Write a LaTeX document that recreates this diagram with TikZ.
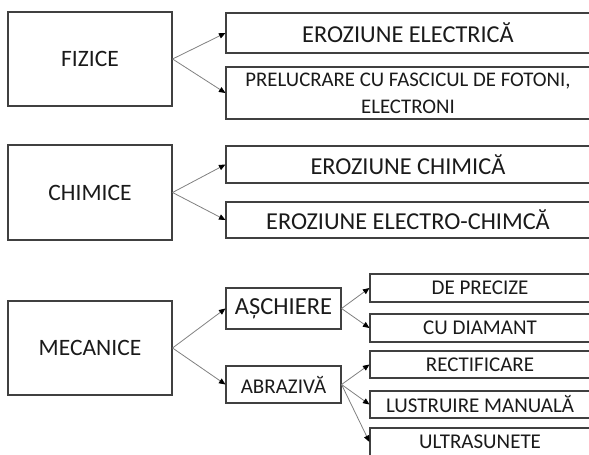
\documentclass[tikz,border=0pt]{standalone}
\usepackage{fontspec}
\setmainfont{Carlito}
\usetikzlibrary{arrows.meta}
\definecolor{boxline}{HTML}{404040}
\definecolor{arrowline}{HTML}{808080}
\definecolor{boxtext}{HTML}{1A1A1A}
\begin{document}
\begin{tikzpicture}[x=1pt,y=-1pt,
  box/.style={draw=boxline, line width=1.1pt, inner sep=0pt, text=boxtext, align=center},
  conn/.style={draw=arrowline, line width=0.8pt, -{Triangle[length=6.5pt,width=5.5pt,color=black]}}]
\useasboundingbox (0,0) rectangle (589,455);
\clip (0,0) rectangle (589,455);
% left column
\node[box, minimum width=164pt, minimum height=94pt, font=\fontsize{23.5}{28}\selectfont] (fizice) at (90,59) {FIZICE};
\node[box, minimum width=164pt, minimum height=95pt, font=\fontsize{23.5}{28}\selectfont] (chimice) at (90,192.5) {CHIMICE};
\node[box, minimum width=164pt, minimum height=94pt, font=\fontsize{23.5}{28}\selectfont] (mecanice) at (90,348) {MECANICE};
% wide boxes
\node[box, minimum width=364pt, minimum height=40pt, font=\fontsize{24.3}{29}\selectfont] (eroel) at (408,33) {EROZIUNE ELECTRICĂ};
\node[box, minimum width=364pt, minimum height=52pt, font=\fontsize{20.8}{27}\selectfont] (fotoni) at (408,93) {PRELUCRARE CU FASCICUL DE FOTONI,\\ELECTRONI};
\node[box, minimum width=364pt, minimum height=37pt, font=\fontsize{24.3}{29}\selectfont] (eroch) at (408,164.5) {EROZIUNE CHIMICĂ};
\node[box, minimum width=364pt, minimum height=36pt, font=\fontsize{24.3}{29}\selectfont] (eroec) at (408,220) {EROZIUNE ELECTRO-CHIMCĂ};
% mecanice branches
\node[box, minimum width=115pt, minimum height=41pt, font=\fontsize{24.5}{29}\selectfont] (aschiere) at (283.5,308.5) {AȘCHIERE};
\node[box, minimum width=115pt, minimum height=37pt, font=\fontsize{21}{25}\selectfont] (abraziva) at (283.5,384.5) {ABRAZIVĂ};
\node[box, minimum width=220pt, minimum height=28pt, font=\fontsize{21}{25}\selectfont] (precize) at (480,288) {DE PRECIZE};
\node[box, minimum width=220pt, minimum height=28pt, font=\fontsize{21}{25}\selectfont] (diamant) at (480,328) {CU DIAMANT};
\node[box, minimum width=220pt, minimum height=27pt, font=\fontsize{21}{25}\selectfont] (rectif) at (480,364.5) {RECTIFICARE};
\node[box, minimum width=220pt, minimum height=27pt, font=\fontsize{21}{25}\selectfont] (lustru) at (480,404.5) {LUSTRUIRE MANUALĂ};
\node[box, minimum width=220pt, minimum height=28pt, font=\fontsize{21}{25}\selectfont] (ultra) at (480,442) {ULTRASUNETE};
% connectors
\draw[conn] (fizice.east) -- (eroel.west);
\draw[conn] (fizice.east) -- (fotoni.west);
\draw[conn] (chimice.east) -- (eroch.west);
\draw[conn] (chimice.east) -- (eroec.west);
\draw[conn] (mecanice.east) -- (aschiere.west);
\draw[conn] (mecanice.east) -- (abraziva.west);
\draw[conn] (aschiere.east) -- (precize.west);
\draw[conn] (aschiere.east) -- (diamant.west);
\draw[conn] (abraziva.east) -- (rectif.west);
\draw[conn] (abraziva.east) -- (lustru.west);
\draw[conn] (abraziva.east) -- (ultra.west);
\end{tikzpicture}
\end{document}
